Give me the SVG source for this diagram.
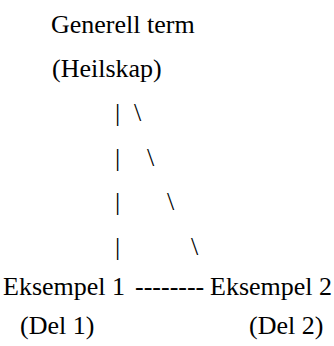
<svg xmlns="http://www.w3.org/2000/svg" width="334" height="346" viewBox="0 0 334 346">
  <style>
    text { font-family: "Liberation Serif", "DejaVu Serif", serif; font-size: 26px; fill: #000; }
  </style>
  <rect width="334" height="346" fill="#fff"/>
  <g id="whole">
    <text x="51" y="33">Generell term</text>
    <text x="52" y="77">(Heilskap)</text>
  </g>
  <g id="connectors">
    <text x="115" y="121">|</text>
    <text x="134" y="121">\</text>
    <text x="115" y="166">|</text>
    <text x="147" y="166">\</text>
    <text x="115" y="210">|</text>
    <text x="167" y="210">\</text>
    <text x="115" y="255">|</text>
    <text x="191" y="255">\</text>
  </g>
  <g id="part1">
    <text x="3" y="295">Eksempel 1</text>
    <text x="20" y="334">(Del 1)</text>
  </g>
  <g id="link">
    <text x="135" y="295">--------</text>
  </g>
  <g id="part2">
    <text x="210" y="295">Eksempel 2</text>
    <text x="249" y="334">(Del 2)</text>
  </g>
</svg>
